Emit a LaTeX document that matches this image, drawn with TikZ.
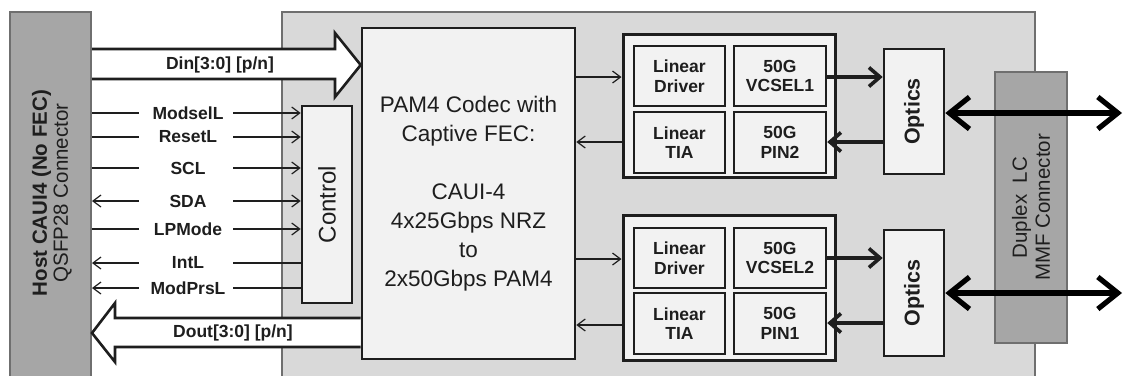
\documentclass[tikz,border=0pt]{standalone}
\usepackage{fontspec}
\setmainfont{Liberation Sans}
\usetikzlibrary{arrows.meta,calc}
\definecolor{hostgray}{HTML}{A6A6A6}
\definecolor{modgray}{HTML}{D9D9D9}
\definecolor{boxfill}{HTML}{F2F2F2}
\definecolor{edgegray}{HTML}{6F6F6F}
\definecolor{ink}{HTML}{1E1E1E}
\newcommand{\fs}[2]{\fontsize{#1bp}{#2bp}\selectfont}
\begin{document}
\begin{tikzpicture}[x=1bp,y=-1bp,
  box/.style={draw=ink, line width=2.6bp, fill=boxfill, inner sep=0pt, text=ink, align=center},
  grp/.style={draw=ink, line width=3bp, fill=boxfill, inner sep=0pt},
  sub/.style={box, line width=2.4bp, font=\fs{17.5}{19.5}\bfseries},
  sig/.style={font=\fs{17.5}{19}\bfseries, text=ink, inner sep=0pt},
  thinline/.style={draw=ink, line width=1.2bp},
  barb/.tip={Straight Barb[length=8bp,width=12bp]},
  thickarrow/.style={draw=ink, line width=3.6bp, -{Straight Barb[length=11bp,width=19bp]}},
  dblarrow/.style={draw=black, line width=5.2bp, {Straight Barb[length=20bp,width=32bp]}-{Straight Barb[length=20bp,width=32bp]}},
  fat/.style={draw=ink, line width=2.6bp, fill=white, line join=miter},
]
\useasboundingbox (0,0) rectangle (1125,375);
\fill[white] (0,0) rectangle (1125,375);
% module background
\node[draw=edgegray, line width=2bp, fill=modgray, minimum width=753bp, minimum height=370bp, inner sep=0pt] (module) at (658.5,197) {};
% host bar
\node[draw=edgegray, line width=2bp, fill=hostgray, minimum width=81bp, minimum height=370bp, inner sep=0pt] (host) at (50.5,197) {};
\node[rotate=90, align=center, text=ink, font=\fs{20.5}{21}] (hostlabel) at (52,193) {\textbf{Host CAUI4 (No FEC)}\\QSFP28 Connector};
% codec
\node[box, minimum width=213bp, minimum height=331bp, font=\fs{22.5}{29}] (codec) at (468.5,193.5)
  {PAM4 Codec with\\Captive FEC:\\[29bp]CAUI-4\\4x25Gbps NRZ\\to\\2x50Gbps PAM4};
% control
\node[box, minimum width=50bp, minimum height=197bp] (control) at (327,204.5) {};
\node[rotate=90, text=ink, font=\fs{24}{25}] (controllabel) at (control.center) {Control};
% fat arrows
\draw[fat] (host.east |- 0,49) -- (335,49) -- (335,33) -- (codec.west |- 0,65) -- (335,97) -- (335,79) -- (host.east |- 0,79);
\node[sig] (din) at (220,65) {Din[3:0] [p/n]};
\draw[fat] (codec.west |- 0,318) -- (115,318) -- (115,303) -- (host.east |- 0,333) -- (115,362) -- (115,347) -- (codec.west |- 0,347);
\node[sig] (dout) at (233,333) {Dout[3:0] [p/n]};
% control signals
\foreach \y/\name in {113/ModselL,137/ResetL,168/SCL,229/LPMode}{
  \node[sig] (lab-\name) at (188,\y) {\name};
  \draw[thinline] (host.east |- 0,\y) -- (139,\y);
  \draw[thinline, -barb] (233,\y) -- (control.west |- 0,\y);
}
\node[sig] (lab-SDA) at (188,201) {SDA};
\draw[thinline, barb-] (host.east |- 0,201) -- (139,201);
\draw[thinline, -barb] (233,201) -- (control.west |- 0,201);
\foreach \y/\name in {263/IntL,288/ModPrsL}{
  \node[sig] (lab-\name) at (188,\y) {\name};
  \draw[thinline, barb-] (host.east |- 0,\y) -- (139,\y);
  \draw[thinline] (233,\y) -- (control.west |- 0,\y);
}
% duplex connector
\node[draw=edgegray, line width=1.8bp, fill=hostgray, minimum width=72bp, minimum height=271bp, inner sep=0pt] (lc) at (1031,207.5) {};
\node[rotate=90, align=center, text=ink, font=\fs{20.5}{23}] (lclabel) at (lc.center) {Duplex~~LC\\MMF Connector};
% top group
\node[grp, minimum width=212bp, minimum height=143bp] (g1) at (729,105.5) {};
\node[sub, minimum width=91bp, minimum height=60bp] (ld1) at (679.5,76) {Linear\\Driver};
\node[sub, minimum width=92bp, minimum height=60bp] (v1) at (780,76) {50G\\VCSEL1};
\node[sub, minimum width=91bp, minimum height=61bp] (tia1) at (679.5,142.5) {Linear\\TIA};
\node[sub, minimum width=92bp, minimum height=61bp] (pin2) at (780,142.5) {50G\\PIN2};
\node[box, minimum width=60bp, minimum height=125bp] (o1) at (914,111.5) {};
\node[rotate=90, text=ink, font=\fs{21.5}{23}\bfseries] (o1label) at (o1.center) {Optics};
% bottom group
\node[grp, minimum width=212bp, minimum height=145bp] (g2) at (729,287.5) {};
\node[sub, minimum width=91bp, minimum height=60bp] (ld2) at (679.5,258) {Linear\\Driver};
\node[sub, minimum width=92bp, minimum height=60bp] (v2) at (780,258) {50G\\VCSEL2};
\node[sub, minimum width=91bp, minimum height=61bp] (tia2) at (679.5,323.5) {Linear\\TIA};
\node[sub, minimum width=92bp, minimum height=61bp] (pin1) at (780,323.5) {50G\\PIN1};
\node[box, minimum width=60bp, minimum height=126bp] (o2) at (914,293) {};
\node[rotate=90, text=ink, font=\fs{21.5}{23}\bfseries] (o2label) at (o2.center) {Optics};
% codec <-> groups
\draw[thinline, -barb] (codec.east |- 0,77) -- (g1.west |- 0,77);
\draw[thinline, -barb] (g1.west |- 0,142) -- (codec.east |- 0,142);
\draw[thinline, -barb] (codec.east |- 0,259) -- (g2.west |- 0,259);
\draw[thinline, -barb] (g2.west |- 0,325) -- (codec.east |- 0,325);
% lasers / detectors <-> optics
\draw[thickarrow] (v1.east |- 0,77) -- (o1.west |- 0,77);
\draw[thickarrow] (o1.west |- 0,142) -- (pin2.east |- 0,142);
\draw[thickarrow] (v2.east |- 0,258) -- (o2.west |- 0,258);
\draw[thickarrow] (o2.west |- 0,323) -- (pin1.east |- 0,323);
% fibre
\coordinate (f1) at (1122,113);
\coordinate (f2) at (1122,293);
\draw[dblarrow] (o1.east |- f1) -- (f1);
\draw[dblarrow] (o2.east |- f2) -- (f2);
\end{tikzpicture}
\end{document}
